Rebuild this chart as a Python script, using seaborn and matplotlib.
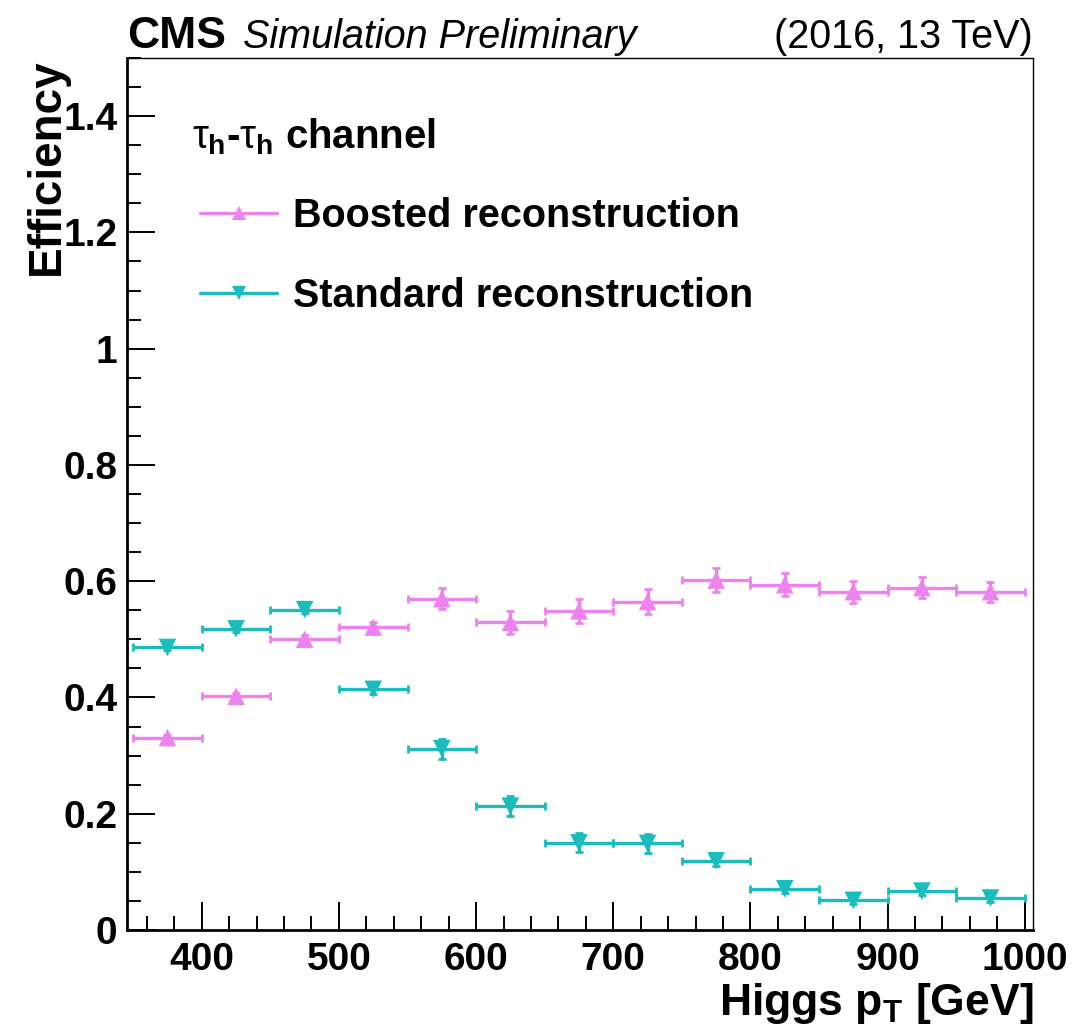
import numpy as np
import pandas as pd
import seaborn as sns
import matplotlib
matplotlib.use("Agg")
import matplotlib.pyplot as plt
from matplotlib.lines import Line2D
from matplotlib.ticker import MultipleLocator

# ---- data ----
pt_centers = [375, 425, 475, 525, 575, 625, 675, 725, 775, 825, 875, 925, 975]
bin_half_width = [25] * 13
boosted_eff = [0.331, 0.402, 0.500, 0.521, 0.570, 0.529, 0.549, 0.565, 0.602, 0.594, 0.582, 0.589, 0.582]
boosted_err = [0.005, 0.006, 0.007, 0.008, 0.018, 0.019, 0.021, 0.021, 0.020, 0.020, 0.019, 0.018, 0.017]
standard_eff = [0.486, 0.518, 0.551, 0.414, 0.312, 0.213, 0.150, 0.149, 0.119, 0.071, 0.051, 0.067, 0.055]
standard_err = [0.005, 0.005, 0.006, 0.008, 0.017, 0.017, 0.016, 0.016, 0.009, 0.007, 0.006, 0.006, 0.006]
series_names = ["Boosted reconstruction", "Standard reconstruction"]
series_colors = ["#EE82EE", "#1ABCBC"]
series_markers = ["^", "v"]
channel_label = "$\\tau_\\mathbf{h}$-$\\tau_\\mathbf{h}$ channel"

sns.set_style("ticks")
plt.rcParams["font.family"] = ["Liberation Sans", "DejaVu Sans"]
plt.rcParams["mathtext.fontset"] = "custom"
plt.rcParams["mathtext.rm"] = "Liberation Sans"
plt.rcParams["mathtext.it"] = "Liberation Sans"
plt.rcParams["mathtext.bf"] = "Liberation Sans:bold"
for key in ["text.color", "axes.labelcolor", "xtick.color", "ytick.color", "axes.edgecolor"]:
    plt.rcParams[key] = "black"

df = pd.concat([
    pd.DataFrame({"pt": pt_centers, "eff": boosted_eff, "err": boosted_err,
                  "xerr": bin_half_width, "series": series_names[0]}),
    pd.DataFrame({"pt": pt_centers, "eff": standard_eff, "err": standard_err,
                  "xerr": bin_half_width, "series": series_names[1]}),
])

fig = plt.figure(figsize=(10.89, 10.32), dpi=100)
ax = fig.add_axes([127/1089, 1-930/1032, (1033-127)/1089, (930-58)/1032])

palette = dict(zip(series_names, series_colors))
markers = dict(zip(series_names, series_markers))

for name in series_names:
    sub = df[df["series"] == name]
    ax.errorbar(sub["pt"], sub["eff"], xerr=sub["xerr"], yerr=sub["err"], fmt="none",
                ecolor=palette[name], elinewidth=2.4, capsize=2.6, capthick=2.0, zorder=2)

sns.scatterplot(data=df, x="pt", y="eff", hue="series", style="series",
                palette=palette, markers=markers, s=160, linewidth=0,
                ax=ax, legend=False, zorder=3)

ax.set_xlim(345.5, 1006)
ax.set_ylim(0, 1.5)
ax.xaxis.set_major_locator(MultipleLocator(100))
ax.xaxis.set_minor_locator(MultipleLocator(20))
ax.yaxis.set_major_locator(MultipleLocator(0.2))
ax.yaxis.set_minor_locator(MultipleLocator(0.05))
ax.yaxis.set_major_formatter(matplotlib.ticker.FuncFormatter(
    lambda v, p: "0" if abs(v) < 1e-9 else ("1" if abs(v-1) < 1e-9 else f"{v:.1f}")))
ax.tick_params(which="major", direction="in", length=20, width=1.4,
               labelsize=28, pad=7, color="black", labelcolor="black")
ax.tick_params(which="minor", direction="in", length=10, width=1.4, color="black")
for lab in ax.get_xticklabels() + ax.get_yticklabels():
    lab.set_fontweight("bold")
ax.tick_params(axis="x", pad=9)

for side in ["left", "bottom"]:
    ax.spines[side].set_linewidth(2.0)
    ax.spines[side].set_color("black")
for side in ["top", "right"]:
    ax.spines[side].set_linewidth(1.0)
    ax.spines[side].set_visible(True)
    ax.spines[side].set_color("black")

ax.set_xlabel("Higgs p$_\\mathbf{T}$ [GeV]", fontsize=32, fontweight="bold",
              loc="right", labelpad=2, color="black")
ax.set_ylabel("Efficiency", fontsize=33, fontweight="bold", loc="top", color="black")
ax.yaxis.set_label_coords(-0.064, 1.0)

# header
fig.text(127/1089, 1-48/1032, "CMS", fontsize=32, fontweight="bold", va="baseline", ha="left")
fig.text(243/1089, 1-48/1032, "Simulation Preliminary", fontsize=28.5, style="italic",
         va="baseline", ha="left")
fig.text(1033/1089, 1-48/1032, "(2016, 13 TeV)", fontsize=28.5, va="baseline", ha="right")

# channel label + legend
fig.text(192/1089, 1-148/1032, channel_label, fontsize=29, fontweight="bold",
         va="baseline", ha="left")
handles = [Line2D([], [], color=c, lw=2.4, marker=m, markersize=10, markeredgewidth=0)
           for c, m in zip(series_colors, series_markers)]
ax.legend(handles, series_names, loc="upper left",
          bbox_to_anchor=(200/1089, 1-197/1032), bbox_transform=fig.transFigure,
          frameon=False, prop={"size": 28.5, "weight": "bold"},
          handlelength=1.95, handletextpad=0.4, labelspacing=1.05,
          borderpad=0, borderaxespad=0)

fig.savefig("out.png", dpi=100)
